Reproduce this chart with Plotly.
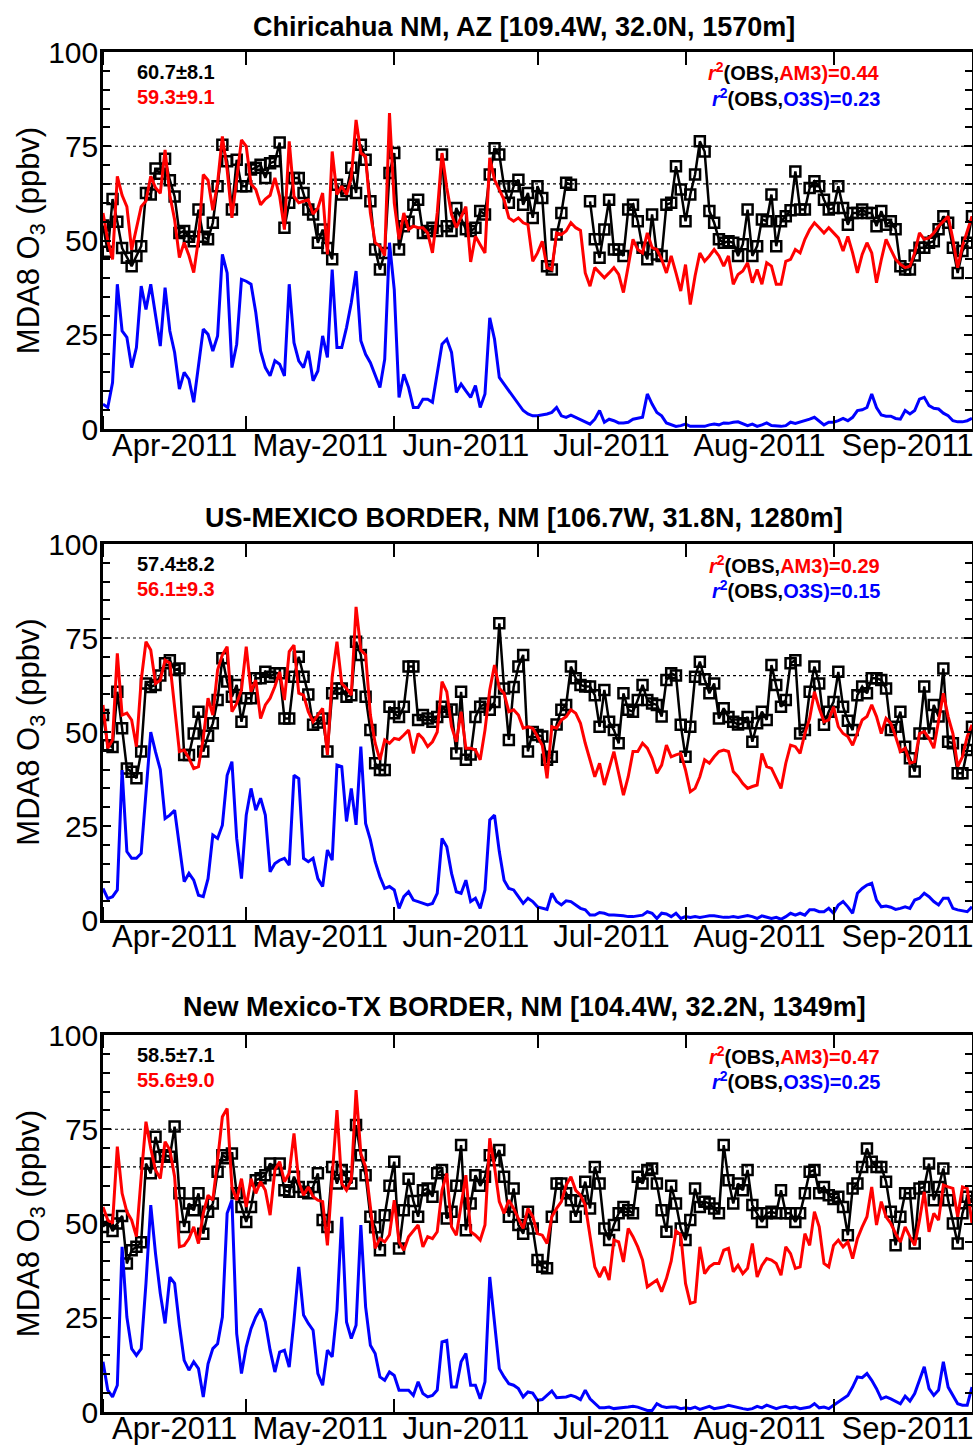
import plotly.graph_objects as go
import pandas as pd

# ---------------- data ----------------
dates = pd.date_range("2011-04-01", "2011-09-30", freq="D")

site_titles = [
    "Chiricahua NM, AZ [109.4W, 32.0N, 1570m]",
    "US-MEXICO BORDER, NM [106.7W, 31.8N, 1280m]",
    "New Mexico-TX BORDER, NM [104.4W, 32.2N, 1349m]",
]
obs_stats = ["60.7±8.1", "57.4±8.2", "58.5±7.1"]
am3_stats = ["59.3±9.1", "56.1±9.3", "55.6±9.0"]
r2_am3 = ["0.44", "0.29", "0.47"]
r2_o3s = ["0.23", "0.15", "0.25"]
thresholds = [65, 75]
y_range = [0, 100]

N = None
obs_chiricahua = [
    54, 47, 61, 55, 48, 45.4, 43.2, 45.9, 48.5, 62.6,
    62.2, 69.1, 67.7, 71.7, 66, 61.7, 52, 52.5, 51, 49.8,
    58.2, 51, 50.3, 54.7, 64.4, 75.4, 71, 58.2, 71.4, 64.4,
    64.4, 68.8, 69.3, 70.1, 66.6, 70.5, 71, 76, 53.4, 60,
    66.6, 66.6, 62.6, 58.2, 56.9, 49.4, 52.9, 48, 45, 64.8,
    62.2, 63.1, 69.3, 62.6, 75.4, 71.4, 60.4, 47.6, 42.3, 46.7,
    67.9, 73.2, 47.6, 53.8, 55, 59.5, 60.8, 52, 52.5, 53.4,
    52.5, 72.8, 53.8, 52.5, 58.6, 56, 53, 52.5, 53.4, 57.8,
    56.9, 67.5, 74.5, 72.8, 64.4, 60, 64.4, 66.1, 59.5, 62.6,
    56, 64.4, 61.3, 43.2, 42.3, 51.6, 57.3, 65.3, 64.8, N,
    N, N, 60.4, 50.3, 45.4, 52.9, 60.8, 47.6, 47.6, 45.9,
    58.2, 59.5, 55.1, 48.1, 45, 56.9, 46.3, 45.9, 59.5, 60,
    69.7, 63.5, 55.1, 62.2, 67.5, 76.3, 73.6, 57.8, 54.7, 50.3,
    49.4, 49.8, 49.4, 45.9, 49, 58.2, 45.9, 48.5, 55.6, 55.1,
    62.2, 48.5, 55.1, 56.4, 58, 68.3, 58.2, 58.2, 63.9, 65.7,
    64.4, 60.8, 58.2, 58.6, 64.4, 58.6, 54.2, 57.3, 57.3, 58.2,
    57.3, 57.3, 53.8, 57.8, 54.2, 55.1, 53, 43.2, 42.3, 42.3,
    46, 48.1, 48.1, 49.4, 49.8, 53, 56.4, 54.7, 48.1, 41.4,
    47.2, 49.4, 56.4,
]
am3_chiricahua = [
    57.3, 50, 45, 67, 62, 59, 47.5, 53, 59, 60.5,
    67, 64, 62.5, 74, 62, 55.5, 45.5, 49.5, 46, 41.5,
    50.3, 67.5, 66, 58, 65.3, 77.6, 68.8, 56, 66, 76.7,
    75, 65, 63.5, 59.5, 61, 62, 66.6, 61.7, 52.9, 76.3,
    61.7, 60, 60.4, 60.8, 57, 58.6, 62.6, 46.3, 73.6, 62.2,
    64.4, 62.2, 66.6, 82, 73.2, 72.3, 57.3, 49.4, 48.5, 46,
    83.8, 60, 50.3, 57.3, 52.9, 53.8, 53.4, 53.4, 52, 46.7,
    57.3, 73.2, 64, 56.9, 53.4, 56.4, 59, 44.3, 51.1, 48.9,
    46.7, 71.9, 66.1, 63.5, 60.8, 56, 55.1, 56, 54.7, 54.2,
    44.5, 46.7, 49.8, 42.8, 42.3, 52, 51.6, 52.5, 54.7, 53.4,
    52.7, 41.4, 37.9, 42.8, 41.4, 40.1, 41.4, 42.8, 41, 36.2,
    43.2, 50.3, 47.6, 46.7, 52, 48.1, 47.6, 45, 41.4, 45.9,
    41.4, 36.6, 43.6, 33, 40.6, 46.7, 44.5, 45.9, 47.6, 45.9,
    43.2, 45.9, 38.4, 41, 41.9, 44.1, 38.8, 42.3, 38.4, 44.1,
    43.2, 38.4, 38.4, 44.5, 45, 47.6, 46.7, 50.3, 52.9, 54.7,
    53.4, 52, 53.4, 52, 50.7, 47.2, 51.1, 46.7, 41.4, 46.3,
    49.4, 46.7, 38.8, 44.9, 50.3, 47.6, 45, 43.7, 42.8, 43.2,
    46.7, 52, 50.3, 50.7, 52, 53.8, 55.1, 56.4, 50.3, 42.8,
    48.5, 52.5, 56.4,
]
o3s_chiricahua = [
    6.6, 5.7, 12.3, 38.4, 26.0, 24.3, 16.3, 21.6, 37.9, 31.7,
    38.4, 30.0, 22.0, 37.5, 26.0, 20.3, 10.6, 15.0, 13.2, 7.1,
    17.2, 26.5, 25.1, 20.7, 24.7, 46.3, 41.4, 16.3, 22.5, 39.7,
    39.2, 38.4, 30.9, 20.7, 16.3, 14.1, 18.1, 17.2, 14.1, 38.4,
    22.9, 18.1, 16.3, 20.7, 12.8, 15.4, 24.7, 19.0, 42.3, 21.6,
    21.6, 26.9, 33.5, 41.9, 23.4, 19.8, 17.6, 14, 11, 18.5,
    49.4, 37, 8.4, 14.5, 11, 5.7, 5.7, 7.9, 7.9, 7.1,
    15, 22.5, 23.8, 20.3, 9.7, 11.9, 10.1, 8.4, 11.5, 5.7,
    9.3, 29.5, 23.8, 13.7, 11.9, 10.1, 8.4, 6.6, 4.9, 4.0,
    3.5, 3.5, 3.7, 4.0, 4.4, 5.7, 3.5, 3.1, 3.7, 3.1,
    2.6, 1.8, 1.3, 2.6, 4.9, 1.8, 2.6, 2.2, 1.6, 1.6,
    1.8, 2.6, 2.8, 3.1, 9.3, 6.6, 4.4, 3.5, 1.6, 1.1,
    0.7, 0.9, 1.3, 0.7, 0.7, 0.9, 0.7, 1.1, 1.3, 1.1,
    1.6, 1.5, 1.8, 1.9, 1.5, 0.9, 1.3, 0.7, 1.1, 1.6,
    0.9, 0.7, 0.7, 0.9, 1.8, 1.5, 1.8, 2.2, 2.6, 3.1,
    2.2, 1.1, 1.8, 1.8, 2.2, 2.8, 2.2, 3.1, 4.9, 5.1,
    5.7, 9.3, 5.7, 3.7, 3.4, 3.4, 2.8, 2.6, 4.9, 4.0,
    4.9, 7.9, 8.4, 6.2, 5.5, 5.3, 4.2, 3.5, 2.2, 1.9,
    1.9, 2.2, 2.8,
]

obs_usmex = [
    54.5, 46.5, 46, 60.7, 51, 40.3, 39.4, 37.7, 44.8, 62.9,
    62, 62.5, 65, 68.3, 69.1, 66.5, 66.9, 43.9, 43.9, 49.6,
    55.4, 44.8, 49, 52.3, 58.5, 69.6, 63.4, 59.4, 62.5, 52.7,
    59, 59, 64.3, 64.3, 66, 64.7, 65.6, 65.6, 53.6, 53.6,
    64.7, 70, 64.7, 60, 51.9, 52.5, 53.6, 44.8, 60.3, 61.6,
    61.6, 59.4, 59.8, 74, 70.5, 59.4, 50.5, 41.7, 39.9, 39.9,
    56.7, 55, 54, 56.7, 67.4, 67.4, 53.2, 54.5, 53.6, 52.7,
    54, 56.7, 55.4, 56, 44.3, 60.7, 42.6, 44, 54, 56.7,
    57.6, 55.9, 58, 78.9, 61.6, 47.9, 62, 67.4, 70.5, 44.8,
    50, 49.2, 48.8, 42.6, 43.4, 52, 55.9, 57.2, 67.4, 64.3,
    62.5, 62.1, 62.1, 59.8, 51.4, 61.2, 52.7, 50.5, 47, 60.3,
    55.9, 55.4, 58.5, 62.5, 58.5, 57.6, 57.2, 54.1, 63.8, 65.6,
    65, 51.9, 43.4, 51.4, 64.7, 68.7, 64, 60.3, 62.9, 53.6,
    56.3, 54, 52.7, 52, 52.3, 54, 47.4, 52.3, 55.4, 53.2,
    67.8, 62.5, 56.7, 58.5, 68.3, 69.1, 49.6, 50.5, 60.7, 67.4,
    62.9, 51.9, 55.4, 58, 66, 56.7, 53, 50.5, 59.8, 62.1,
    60.3, 64.3, 64.3, 63.8, 61.6, 50.5, 51.4, 55.4, 46.1, 43,
    39.5, 49.6, 62.1, 49.6, 57.2, 54.1, 66.9, 47.4, 47, 39,
    39, 45.2, 51.4,
]
am3_usmex = [
    57.2, 45.7, 47.9, 70.9, 54.5, 55, 53.2, 46.1, 63.8, 74,
    71.8, 62.9, 63.8, 69.1, 68.3, 55.9, 44.8, 45.2, 43, 40.3,
    40.8, 48.3, 59, 54.5, 66.5, 70.5, 72.7, 55.4, 57.6, 61.2,
    72.7, 60.7, 63.8, 53.6, 57.2, 59, 62.1, 66, 58.5, 71.4,
    73.1, 60.3, 59.8, 55.4, 52.7, 54.5, 56.3, 43.9, 64.7, 74,
    62.9, 61.6, 59.8, 83.3, 71.8, 70.5, 54.5, 47, 42.6, 47.9,
    47, 48.3, 48, 49.2, 50.5, 44.3, 49.6, 48.3, 46.1, 47.4,
    50, 63.4, 60.7, 51.4, 47.4, 55.4, 45.7, 45.7, 45.2, 42.6,
    50.5, 61.2, 67.8, 61.6, 60.3, 55.4, 55.9, 54.5, 51, 51.4,
    51, 48.8, 46.5, 37.7, 51.4, 51, 53.2, 54.1, 55.9, 55,
    52.3, 47, 42.6, 38.1, 41.7, 35.9, 40.3, 44.8, 39, 33.2,
    38.1, 44.8, 44.8, 47, 45.7, 43, 39, 41.2, 46.5, 43.4,
    43.9, 44.3, 39.9, 34.1, 35, 38.1, 42.6, 41.7, 43.4, 44.8,
    45.2, 44.8, 39.5, 38.1, 36.3, 35, 35.5, 35.9, 44.3, 40.8,
    40.3, 37.7, 35, 41.7, 46.5, 46.1, 44.3, 49.6, 53.6, 60.7,
    56.3, 52.7, 53.2, 56.7, 51.4, 49.6, 48.8, 46.5, 49.6, 53.2,
    54.1, 57.2, 54.1, 49.6, 53.6, 52.3, 48.8, 44.8, 45.7, 41.7,
    42.1, 49.6, 50.1, 48.3, 45.7, 53.2, 60.3, 54.1, 49.6, 40.8,
    43.4, 48.8, 51.9,
]
o3s_usmex = [
    8.4, 5.7, 6.2, 8, 39.9, 18.2, 16.4, 16.4, 17.7, 33.5,
    50, 44.7, 40, 27, 27.9, 29.2, 19.9, 10.2, 12.4, 10.6,
    6.6, 6.2, 11, 22.6, 21.7, 25.2, 38.5, 42.1, 21.7, 11,
    27.9, 35, 29.2, 32.4, 27.9, 12.8, 15, 15.9, 16.4, 14.6,
    38.5, 37.6, 16.4, 15.5, 16.4, 11, 8.9, 18.6, 15.9, 41.2,
    40.8, 26.2, 35, 25.3, 46.1, 25.7, 21.3, 15.5, 11.5, 8.4,
    8.9, 8, 3.1, 6.2, 7.5, 5.3, 4.9, 4.4, 4, 4.4,
    7.1, 21.7, 19.5, 12.4, 7.5, 7.1, 10.6, 4.9, 5.8, 3.1,
    8, 26.6, 27.9, 18.2, 10.6, 8.4, 8, 6.2, 4.4, 5.8,
    4.9, 3.5, 3.1, 2.8, 7.1, 4.9, 4, 5.1, 4.9, 4,
    3.1, 2.7, 1.3, 1.3, 2, 1.8, 1.3, 1.3, 1.3, 1.1,
    0.9, 0.9, 1.1, 1.3, 2.2, 1.8, 0.4, 1.8, 1.6, 0.9,
    1.8, 0.4, 0.9, 0.7, 0.9, 0.7, 0.9, 1.1, 1.1, 0.9,
    0.7, 0.7, 0.9, 0.7, 0.9, 1.2, 0.9, 0.4, 1.1, 0.7,
    0.4, 0.7, 0.2, 0.9, 1.8, 1.3, 1.8, 1.3, 2.7, 2.7,
    2.2, 2.2, 3.1, 1.8, 4, 4.9, 3.5, 1.8, 7.1, 8.4,
    9.3, 9.8, 5.3, 3.5, 3.7, 3.4, 2.8, 3.1, 3.5, 3.1,
    5.3, 5.8, 7.1, 6.2, 4.9, 4, 5.8, 5.8, 3.1, 2.7,
    2.5, 2.2, 3.5,
]

obs_nmtx = [
    49.1, 50.9, 48, 50, 52, 39.4, 42.9, 43.8, 45, 65.9,
    63.3, 73, 67.7, 68.1, 67.7, 75.7, 58, 49.1, 55.3, 53.5,
    58, 47.3, 53.1, 55.3, 63.7, 68.1, 67.3, 68.6, 58, 54.4,
    50.4, 54.4, 61.5, 62, 62.8, 65.9, 64.2, 65.9, 58.8, 58.4,
    62.4, 59.7, 58.4, 58, 59.7, 63.3, 50.9, 49.1, 65, 60.6,
    64.2, 62.4, 60.6, 76.1, 68.1, 62.8, 51.8, 49, 42.9, 52.2,
    60, 66.4, 43.4, 53.5, 61.9, 56, 51.8, 58.8, 59.3, 57.1,
    63.3, 64.2, 51.3, 53.1, 60, 70.8, 48.2, 55.3, 62.8, 60,
    62.4, 68.1, 66.8, 69.5, 62.4, 51.8, 59.3, 49.6, 47.3, 53.1,
    48.7, 40.3, 38.5, 38.1, 51.8, 60.6, 60.6, 58, 56.2, 51.8,
    56, 61.1, 54, 65, 60.6, 48.7, 45.6, 49.6, 52.7, 54.4,
    53.5, 52.7, 62.4, 60.6, 64.2, 64.6, 60.6, 53.5, 47.8, 60,
    55.3, 48.7, 45.6, 50.9, 59.3, 54.4, 55.8, 55.3, 54, 52.7,
    70.8, 61.5, 55.3, 60.6, 58.8, 64.2, 54.9, 52.7, 50.4, 52.7,
    53.1, 52.7, 58.8, 52.7, 52.7, 50.4, 52.7, 58, 63.7, 64.2,
    58, 59.7, 57.5, 56.5, 57.1, 54.4, 46.9, 59.3, 60.6, 65,
    69.9, 66.4, 65, 65, 61.1, 53.1, 44.2, 51.8, 58, 58,
    44.7, 59.3, 59.7, 65.9, 56.2, 59.7, 64.6, 56.2, 50, 44.7,
    52.7, 57.1, 56,
]
am3_nmtx = [
    54.4, 50.9, 50, 70.4, 58, 53.1, 50.9, 46.5, 62.4, 77,
    69.9, 64.2, 61.9, 71.7, 69.5, 62.4, 43.8, 44.2, 46, 49.1,
    44.7, 52.7, 57.5, 56.2, 66.8, 78.3, 80.5, 59.7, 56.2, 61.9,
    54.4, 61.9, 58, 61.1, 58.8, 52.2, 64.2, 66.4, 61.1, 63.3,
    73.9, 61.1, 57.5, 59.7, 57.1, 56.2, 55.8, 44.2, 62.4, 80.1,
    60.6, 58.8, 61.5, 85.4, 68.6, 65, 54.4, 43.4, 46, 45.1,
    47, 56.2, 45.1, 42.9, 46.5, 48.2, 49.6, 43.8, 46.5, 46,
    47.8, 58.8, 63.3, 49.1, 46.9, 54.9, 62.8, 47.8, 46.9, 45.6,
    49.6, 72.6, 65, 55.8, 52.7, 56.2, 54, 51.3, 48.7, 54,
    51.8, 47.3, 46.9, 44.7, 51.8, 54, 55.8, 60.2, 62.4, 58.8,
    57.5, 54.9, 46.9, 38.5, 35.8, 38.5, 35, 45.6, 45.1, 39.8,
    48.7, 46.5, 43.8, 40.3, 33.2, 34.1, 35, 31.9, 35.4, 40,
    48, 47, 34.1, 28.8, 29.2, 43.8, 36.7, 38.5, 39.4, 39.4,
    42.9, 43.4, 37.2, 38.9, 36.7, 38.1, 44.7, 35.8, 38.9, 40.7,
    40.3, 39.4, 36.3, 43.8, 42, 38.1, 38.5, 47.3, 44.2, 53.1,
    49.1, 39.4, 38.5, 44.2, 45.6, 43.8, 45.1, 40.7, 46, 49.1,
    51.8, 59.7, 49.6, 55.8, 51.8, 50, 47.3, 45.1, 49.1, 46.5,
    44.2, 50.9, 58.4, 47.8, 52.7, 50.9, 60.2, 59.7, 59.3, 51.8,
    59.7, 59.3, 50,
]
o3s_nmtx = [
    13.3, 5.8, 4, 7.1, 43.8, 25.2, 16.8, 15, 16.8, 34.1,
    54.9, 42, 31.4, 23.5, 35.8, 34.1, 23, 13.7, 11.1, 13.3,
    11.5, 4, 12.8, 16.8, 18.1, 25.2, 52.7, 56.2, 20.8, 10.2,
    17.3, 22.1, 25.2, 27.4, 23.9, 16.4, 10.6, 15.9, 16.4, 11.9,
    24.3, 38.5, 25.7, 23.5, 21.7, 10.2, 7.1, 16.4, 14.6, 27,
    51.8, 23.9, 19.5, 23, 49.6, 27.9, 17.7, 15.5, 9.3, 8.4,
    10.6, 9.7, 5.8, 5.8, 5.8, 4.4, 8, 4.9, 4, 4.4,
    5.8, 18.6, 19, 6.6, 6.6, 13.3, 15.5, 7.1, 7.1, 3.5,
    8, 35.8, 24.3, 11.5, 9.3, 7.5, 7.1, 6.2, 4, 5.3,
    5, 3.1, 3.3, 4.4, 5.6, 3.8, 4, 4, 4.4, 4,
    3.3, 5.8, 3.5, 2.2, 1.1, 1.1, 1.3, 0.9, 1.1, 1.2,
    1.3, 1.5, 1.3, 0.9, 0.4, 0.4, 2.2, 1.5, 1.2, 1.3,
    1.3, 0.9, 1.1, 0.9, 1.3, 0.7, 1.1, 1.5, 0.9, 1.1,
    1.3, 1.8, 1.5, 1.1, 0.9, 0.7, 0.9, 1.5, 1.1, 1.8,
    1.3, 0.9, 1.3, 1.5, 1.1, 1.3, 0.9, 1.1, 1.3, 2.2,
    1.1, 1.3, 0.9, 1.8, 2.7, 3.5, 4.4, 6.6, 9.3, 9.1,
    10.2, 8.4, 6.2, 3.5, 4, 3.5, 2.9, 2.2, 4.2, 2.9,
    4.9, 8.4, 12, 6.2, 4.4, 5.8, 13.3, 6.6, 4.4, 2.2,
    1.8, 1.8, 6.6,
]

panels = [
    (obs_chiricahua, am3_chiricahua, o3s_chiricahua),
    (obs_usmex, am3_usmex, o3s_usmex),
    (obs_nmtx, am3_nmtx, o3s_nmtx),
]
for p in panels:
    for s in p:
        assert len(s) == len(dates), (len(s), len(dates))

# ---------------- layout ----------------
W, H = 973, 1445
FONT = "Liberation Sans, Arial, Helvetica, sans-serif"
RED, BLUE = "#ff0000", "#0000ff"
panel_px = [(52, 429), (544, 920), (1035, 1412)]
title_px = [27, 518, 1007]
x_dom = [103 / W, 972 / W]

fig = go.Figure()
layout_axes = {}
annotations = []
shapes = []

for i, (obs, am3, o3s) in enumerate(panels):
    n = i + 1
    sfx = "" if n == 1 else str(n)
    xa, ya = "x" + sfx, "y" + sfx

    fig.add_trace(go.Scatter(
        x=dates, y=obs, mode="lines+markers", connectgaps=False,
        line=dict(color="black", width=2.5),
        marker=dict(symbol="square-open", size=10, color="black",
                    line=dict(width=2.5, color="black")),
        xaxis=xa, yaxis=ya, showlegend=False, name="OBS"))
    fig.add_trace(go.Scatter(
        x=dates, y=am3, mode="lines", line=dict(color=RED, width=3),
        xaxis=xa, yaxis=ya, showlegend=False, name="AM3"))
    fig.add_trace(go.Scatter(
        x=dates, y=o3s, mode="lines", line=dict(color=BLUE, width=3),
        xaxis=xa, yaxis=ya, showlegend=False, name="O3S"))

    top, bot = panel_px[i]
    y_dom = [1 - bot / H, 1 - top / H]

    layout_axes["xaxis" + sfx] = dict(
        domain=x_dom, anchor=ya, type="date", automargin=False,
        range=[dates[0], dates[-1]],
        tick0="2011-04-01", dtick="M1", tickformat="%b-%Y",
        ticklabelmode="period", ticklabelstandoff=-13,
        ticklabeloverflow="allow",
        ticks="inside", ticklen=13, tickwidth=1.5, tickcolor="black",
        showline=True, linewidth=2.5, linecolor="black", mirror="ticks",
        showgrid=False, zeroline=False,
        tickfont=dict(family=FONT, size=31, color="black"),
    )
    layout_axes["yaxis" + sfx] = dict(
        domain=y_dom, anchor=xa, range=y_range, automargin=False,
        tickmode="linear", tick0=0, dtick=25, ticklabelstandoff=-4,
        ticks="inside", ticklen=8, tickwidth=1.5, tickcolor="black",
        minor=dict(dtick=5, tick0=0, ticks="inside", ticklen=7,
                   tickwidth=1.5, tickcolor="black", showgrid=False),
        showline=True, linewidth=2.5, linecolor="black", mirror="ticks",
        showgrid=False, zeroline=False,
        tickfont=dict(family=FONT, size=30, color="black"),
        title=dict(text="MDA8 O<sub>3</sub> (ppbv)", standoff=0,
                   font=dict(family=FONT, size=31, color="black")),
    )

    for t in thresholds:
        shapes.append(dict(
            type="line", xref=xa + " domain", x0=0, x1=1,
            yref=ya, y0=t, y1=t, layer="below",
            line=dict(color="black", width=1.2, dash="dot")))

    # panel title
    annotations.append(dict(
        text="<b>" + site_titles[i] + "</b>", xref="paper", yref="paper",
        x=524 / W, y=1 - title_px[i] / H, xanchor="center", yanchor="middle",
        showarrow=False, font=dict(family=FONT, size=27, color="black")))

    ph = bot - top
    y1 = 1 - 20 / ph
    y2 = 1 - 45 / ph
    annotations.append(dict(
        text="<b>" + obs_stats[i] + "</b>", xref=xa + " domain", yref=ya + " domain",
        x=32 / 869, y=y1, xanchor="left", yanchor="middle", showarrow=False,
        font=dict(family=FONT, size=20, color="black")))
    annotations.append(dict(
        text="<b>" + am3_stats[i] + "</b>", xref=xa + " domain", yref=ya + " domain",
        x=32 / 869, y=y2, xanchor="left", yanchor="middle", showarrow=False,
        font=dict(family=FONT, size=20, color=RED)))
    annotations.append(dict(
        text=("<b><span style='color:%s'><i>r</i><sup>2</sup></span>(OBS,"
              "<span style='color:%s'>AM3)=%s</span></b>") % (RED, RED, r2_am3[i]),
        xref=xa + " domain", yref=ya + " domain",
        x=(882 - 103) / 869, y=y1, xanchor="right", yanchor="middle", showarrow=False,
        font=dict(family=FONT, size=20, color="black")))
    annotations.append(dict(
        text=("<b><span style='color:%s'><i>r</i><sup>2</sup></span>(OBS,"
              "<span style='color:%s'>O3S)=%s</span></b>") % (BLUE, BLUE, r2_o3s[i]),
        xref=xa + " domain", yref=ya + " domain",
        x=(882 - 103) / 869, y=y2, xanchor="right", yanchor="middle", showarrow=False,
        font=dict(family=FONT, size=20, color="black")))

fig.update_layout(
    width=W, height=H,
    margin=dict(l=0, r=0, t=0, b=0, pad=0, autoexpand=False),
    paper_bgcolor="white", plot_bgcolor="white",
    showlegend=False,
    font=dict(family=FONT, color="black"),
    annotations=annotations, shapes=shapes,
    **layout_axes,
)

fig.write_html("out.html")
